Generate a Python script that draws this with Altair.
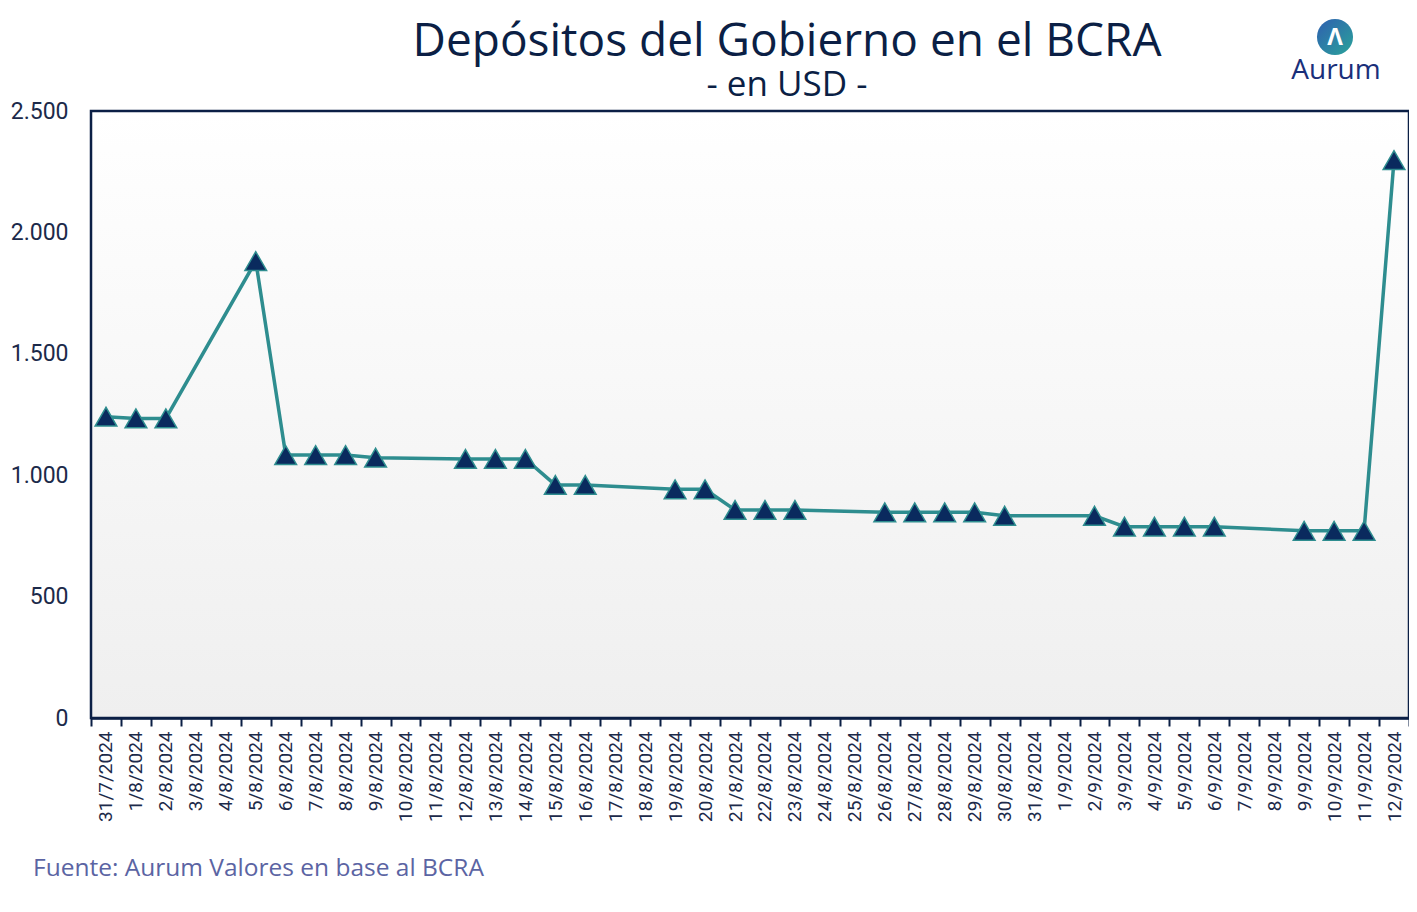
import altair as alt
import pandas as pd

# All category labels on the x axis (one per calendar day)
all_dates = [
    "31/7/2024", "1/8/2024", "2/8/2024", "3/8/2024", "4/8/2024", "5/8/2024",
    "6/8/2024", "7/8/2024", "8/8/2024", "9/8/2024", "10/8/2024", "11/8/2024",
    "12/8/2024", "13/8/2024", "14/8/2024", "15/8/2024", "16/8/2024", "17/8/2024",
    "18/8/2024", "19/8/2024", "20/8/2024", "21/8/2024", "22/8/2024", "23/8/2024",
    "24/8/2024", "25/8/2024", "26/8/2024", "27/8/2024", "28/8/2024", "29/8/2024",
    "30/8/2024", "31/8/2024", "1/9/2024", "2/9/2024", "3/9/2024", "4/9/2024",
    "5/9/2024", "6/9/2024", "7/9/2024", "8/9/2024", "9/9/2024", "10/9/2024",
    "11/9/2024", "12/9/2024",
]

# Business days with data
obs_dates = [
    "31/7/2024", "1/8/2024", "2/8/2024", "5/8/2024", "6/8/2024", "7/8/2024",
    "8/8/2024", "9/8/2024", "12/8/2024", "13/8/2024", "14/8/2024", "15/8/2024",
    "16/8/2024", "19/8/2024", "20/8/2024", "21/8/2024", "22/8/2024", "23/8/2024",
    "26/8/2024", "27/8/2024", "28/8/2024", "29/8/2024", "30/8/2024", "2/9/2024",
    "3/9/2024", "4/9/2024", "5/9/2024", "6/9/2024", "9/9/2024", "10/9/2024",
    "11/9/2024", "12/9/2024",
]
deposits = [
    1241, 1234, 1234, 1882, 1083, 1083,
    1083, 1072, 1067, 1067, 1067, 960,
    960, 942, 942, 857, 857, 857,
    847, 847, 847, 847, 833, 833,
    788, 788, 788, 788, 771, 771,
    771, 2298,
]

y_ticks = [0, 500, 1000, 1500, 2000, 2500]

df = pd.DataFrame({"fecha": obs_dates, "valor": deposits, "orden": list(range(len(obs_dates)))})

W, H = 1318, 607
NAVY = "#0b1f45"
TEAL = "#2e8d8f"
TFONT = "Open Sans"

x_enc = alt.X(
    "fecha:N",
    sort=all_dates,
    scale=alt.Scale(type="band", domain=all_dates, paddingInner=0, paddingOuter=0),
    axis=alt.Axis(
        title=None, labelAngle=270, labelFont="Roboto", labelFontSize=19,
        labelColor="#1c2a4a", domainColor=NAVY, domainWidth=2.5,
        tickColor=NAVY, tickWidth=2, tickSize=8, tickBand="extent",
        labelPadding=5, grid=False, labelOverlap=False,
    ),
)
y_enc = alt.Y(
    "valor:Q",
    scale=alt.Scale(domain=[0, 2500], nice=False),
    axis=alt.Axis(
        title=None, values=y_ticks, labelFont="Roboto", labelFontSize=23,
        labelColor="#1c2a4a", domain=False, ticks=False, grid=False,
        labelPadding=23,
        labelExpr="replace(format(datum.value, ','), ',', '.')",
    ),
)

one = alt.Data(values=[{}])

bg = alt.Chart(one).mark_rect(
    color=alt.LinearGradient(
        gradient="linear",
        stops=[alt.GradientStop(color="#ffffff", offset=0),
               alt.GradientStop(color="#efefef", offset=1)],
        x1=0, x2=0, y1=0, y2=1,
    )
).encode(x=alt.value(0), x2=alt.value(W), y=alt.value(0), y2=alt.value(H))

frame = alt.Chart(one).mark_rect(
    fillOpacity=0, stroke=NAVY, strokeWidth=2.5,
).encode(x=alt.value(0), x2=alt.value(W), y=alt.value(0), y2=alt.value(H))

base = alt.Chart(df)
line = base.mark_line(color=TEAL, strokeWidth=3.5).encode(x=x_enc, y=y_enc, order="orden:Q")
pts = base.mark_point(
    shape="triangle-up", filled=True, fill="#0a2a5e", stroke=TEAL,
    strokeWidth=1.5, size=470, opacity=1,
).encode(x=x_enc, y=y_enc)

title = alt.Chart(one).mark_text(
    text="Depósitos del Gobierno en el BCRA", font=TFONT, fontSize=46,
    color=NAVY, align="center", baseline="alphabetic",
).encode(x=alt.value(696), y=alt.value(-55))
subtitle = alt.Chart(one).mark_text(
    text="- en USD -", font=TFONT, fontSize=35,
    color=NAVY, align="center", baseline="alphabetic",
).encode(x=alt.value(696), y=alt.value(-15))
footer = alt.Chart(one).mark_text(
    text="Fuente: Aurum Valores en base al BCRA", font=TFONT, fontSize=24.5,
    color="#5b64a3", align="left", baseline="alphabetic",
).encode(x=alt.value(-58), y=alt.value(765))

logo_circle = alt.Chart(one).mark_point(
    shape="circle", filled=True, size=1300, opacity=1,
    fill=alt.LinearGradient(
        gradient="linear",
        stops=[alt.GradientStop(color="#2f5fb0", offset=0),
               alt.GradientStop(color="#2aa39a", offset=1)],
        x1=0, x2=1, y1=0, y2=1,
    ),
).encode(x=alt.value(1244), y=alt.value(-74))
logo_mark = alt.Chart(one).mark_text(
    text="Λ", font=TFONT, fontSize=24, color="white", fontWeight="bold",
    align="center", baseline="middle",
).encode(x=alt.value(1244), y=alt.value(-73))
logo_text = alt.Chart(one).mark_text(
    text="Aurum", font=TFONT, fontSize=28, color="#1a2f7a",
    align="center", baseline="alphabetic",
).encode(x=alt.value(1245), y=alt.value(-32))

chart = alt.layer(
    bg, frame, line, pts, title, subtitle, footer, logo_circle, logo_mark, logo_text
).properties(
    width=W, height=H,
    autosize=alt.AutoSizeParams(type="none"),
    padding={"left": 83, "top": 103, "right": 0, "bottom": 186},
).configure_view(
    stroke=None
).configure(background="white")

chart.save("out.html", embed_options={"renderer": "svg", "actions": False})
